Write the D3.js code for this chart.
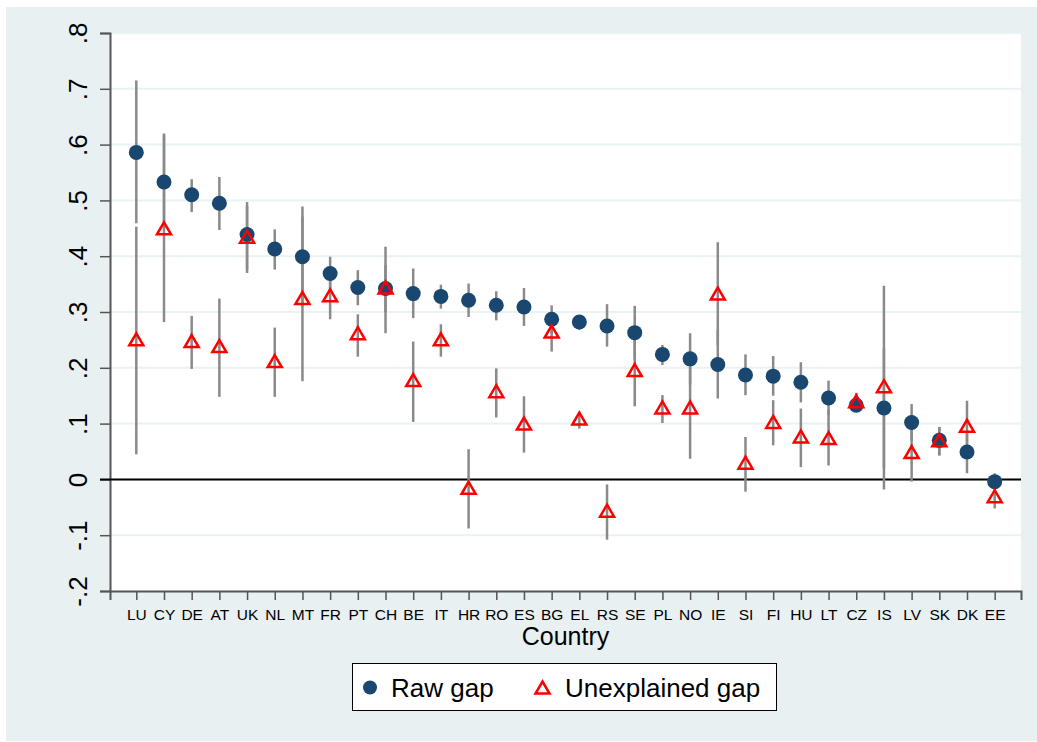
<!DOCTYPE html>
<html>
<head>
<meta charset="utf-8">
<script src="https://cdn.jsdelivr.net/npm/d3@7"></script>
<style>
  body { margin: 0; background: #fff; }
  svg { display: block; font-family: "Liberation Sans", Arial, sans-serif; }
</style>
</head>
<body>
<svg width="1037" height="742"></svg>
<script>
var countries = ["LU","CY","DE","AT","UK","NL","MT","FR","PT","CH","BE","IT","HR","RO","ES","BG",
                 "EL","RS","SE","PL","NO","IE","SI","FI","HU","LT","CZ","IS","LV","SK","DK","EE"];

var rawGap = [0.586,0.533,0.510,0.495,0.439,0.413,0.399,0.369,0.344,0.342,0.333,0.328,0.321,0.312,0.309,0.287,
              0.282,0.275,0.263,0.224,0.216,0.206,0.187,0.185,0.174,0.146,0.133,0.128,0.102,0.070,0.049,-0.004];
var rawLo  = [0.459,0.450,0.479,0.447,0.370,0.376,0.310,0.340,0.312,0.300,0.289,0.306,0.291,0.285,0.275,0.262,
              0.268,0.238,0.215,0.205,0.170,0.145,0.151,0.150,0.138,0.115,0.122,0.020,0.070,0.043,0.011,-0.020];
var rawHi  = [0.715,0.617,0.538,0.542,0.497,0.448,0.489,0.399,0.375,0.384,0.378,0.349,0.351,0.337,0.343,0.312,
              0.294,0.314,0.311,0.241,0.262,0.268,0.224,0.221,0.210,0.177,0.155,0.235,0.135,0.094,0.085,0.011];

var unexpGap = [0.251,0.450,0.248,0.239,0.435,0.212,0.325,0.330,0.262,0.344,0.178,0.251,-0.015,0.158,0.100,0.265,
                0.109,-0.056,0.196,0.129,0.129,0.333,0.030,0.103,0.077,0.074,0.140,0.167,0.049,0.070,0.096,-0.030];
var unexpLo  = [0.045,0.282,0.198,0.148,0.375,0.148,0.176,0.287,0.220,0.262,0.103,0.220,-0.088,0.111,0.048,0.229,
                0.091,-0.108,0.131,0.101,0.037,0.240,-0.022,0.061,0.022,0.025,0.122,-0.018,-0.004,0.043,0.050,-0.052];
var unexpHi  = [0.453,0.620,0.293,0.324,0.490,0.272,0.471,0.370,0.296,0.417,0.247,0.278,0.054,0.199,0.149,0.300,
                0.121,-0.009,0.260,0.151,0.215,0.425,0.076,0.142,0.127,0.125,0.155,0.347,0.090,0.094,0.141,-0.010];

var yTicks = [-0.2,-0.1,0,0.1,0.2,0.3,0.4,0.5,0.6,0.7,0.8];
var yTickLabels = ["-.2","-.1","0",".1",".2",".3",".4",".5",".6",".7",".8"];

var svg = d3.select("svg"),
    plot = {left: 110, right: 1021, top: 33, bottom: 591};

// outer Stata background
svg.append("rect")
    .attr("x", 6).attr("y", 7)
    .attr("width", 1031).attr("height", 734)
    .attr("fill", "#e8f0f2");
svg.append("rect")
    .attr("x", plot.left).attr("y", plot.top)
    .attr("width", plot.right - plot.left).attr("height", plot.bottom - plot.top)
    .attr("fill", "#fff");

var x = d3.scaleLinear()
    .domain([-0.95, countries.length - 0.05])
    .range([plot.left, plot.right]);

var y = d3.scaleLinear()
    .domain([-0.2, 0.8])
    .range([plot.bottom, plot.top]);

// grid
svg.append("g")
    .selectAll("line")
    .data(yTicks.filter(function (d) { return d !== -0.2; }))
    .enter().append("line")
    .attr("x1", plot.left).attr("x2", plot.right)
    .attr("y1", function (d) { return y(d); })
    .attr("y2", function (d) { return y(d); })
    .attr("stroke", "#eaf2f3")
    .attr("stroke-width", 2);

// y axis
var yAxis = svg.append("g")
    .attr("transform", "translate(" + plot.left + ",0)")
    .call(d3.axisLeft(y).tickValues(yTicks).tickSize(10).tickPadding(14)
        .tickFormat(function (d, i) { return yTickLabels[i]; }));
yAxis.select(".domain").attr("stroke", "#555").attr("stroke-width", 2);
yAxis.selectAll(".tick line").attr("stroke", "#555").attr("stroke-width", 1.5);
yAxis.selectAll(".tick text")
    .attr("x", null).attr("dy", null)
    .attr("transform", "translate(-23,0) rotate(-90)")
    .attr("text-anchor", "middle")
    .attr("fill", "#000")
    .style("font-size", "26px");

// x axis
var xAxis = svg.append("g")
    .attr("transform", "translate(0," + plot.bottom + ")")
    .call(d3.axisBottom(x).tickValues(d3.range(countries.length)).tickSize(9).tickPadding(9)
        .tickFormat(function (d) { return countries[d]; }));
xAxis.select(".domain").attr("stroke", "#555").attr("stroke-width", 2);
xAxis.selectAll(".tick line").attr("stroke", "#555").attr("stroke-width", 1.5);
xAxis.selectAll(".tick text")
    .attr("fill", "#000")
    .style("font-size", "15.5px");

svg.append("text")
    .attr("x", (plot.left + plot.right) / 2)
    .attr("y", 645)
    .attr("text-anchor", "middle")
    .style("font-size", "25px")
    .text("Country");

// zero line
svg.append("line")
    .attr("x1", plot.left - 10).attr("x2", plot.right)
    .attr("y1", y(0)).attr("y2", y(0))
    .attr("stroke", "#000").attr("stroke-width", 2);

// confidence spikes
var ci = svg.append("g").attr("stroke", "#8a8a8a").attr("stroke-width", 2.5);
countries.forEach(function (c, i) {
    ci.append("line")
        .attr("x1", x(i)).attr("x2", x(i))
        .attr("y1", y(rawLo[i])).attr("y2", y(rawHi[i]));
    ci.append("line")
        .attr("x1", x(i)).attr("x2", x(i))
        .attr("y1", y(unexpLo[i])).attr("y2", y(unexpHi[i]));
});

var triangle = function (cx, cy) {
    return "M" + cx + "," + (cy - 6) + "L" + (cx + 7) + "," + (cy + 6) + "L" + (cx - 7) + "," + (cy + 6) + "Z";
};

svg.append("g")
    .selectAll("circle")
    .data(rawGap)
    .enter().append("circle")
    .attr("cx", function (d, i) { return x(i); })
    .attr("cy", function (d) { return y(d); })
    .attr("r", 7.5)
    .attr("fill", "#1a476f");

svg.append("g")
    .selectAll("path")
    .data(unexpGap)
    .enter().append("path")
    .attr("d", function (d, i) { return triangle(x(i), y(d)); })
    .attr("fill", "none")
    .attr("stroke", "#ff0000")
    .attr("stroke-width", 2.5)
    .attr("stroke-linejoin", "miter");

// legend
var leg = svg.append("g");
leg.append("rect")
    .attr("x", 352.5).attr("y", 663.5)
    .attr("width", 424).attr("height", 47)
    .attr("fill", "#fff").attr("stroke", "#000").attr("stroke-width", 1);
leg.append("circle")
    .attr("cx", 370).attr("cy", 687.5).attr("r", 7)
    .attr("fill", "#1a476f");
leg.append("text")
    .attr("x", 391).attr("y", 696.5)
    .style("font-size", "26px")
    .text("Raw gap");
leg.append("path")
    .attr("d", triangle(542.5, 687.5))
    .attr("fill", "none").attr("stroke", "#ff0000").attr("stroke-width", 2.5);
leg.append("text")
    .attr("x", 565).attr("y", 696.5)
    .style("font-size", "26px")
    .text("Unexplained gap");
</script>
</body>
</html>
